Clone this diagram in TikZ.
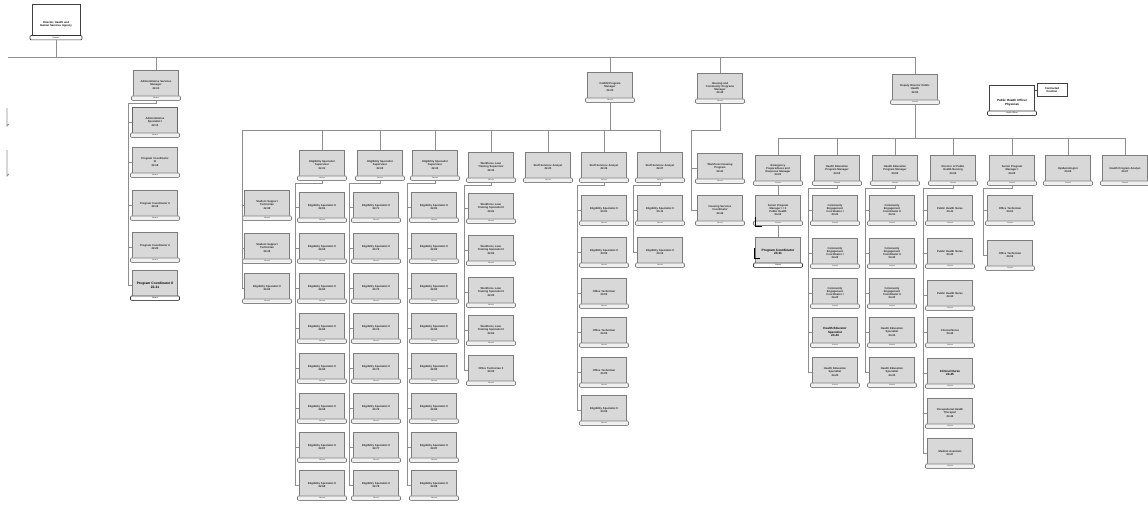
\documentclass[tikz,border=0pt]{standalone}
\usepackage{fontspec}
\setmainfont{Liberation Sans}
\usetikzlibrary{calc}
\definecolor{boxfill}{HTML}{D8D8D8}
\definecolor{boxdraw}{HTML}{7C7C7C}
\definecolor{stripfill}{HTML}{F0F0F0}
\definecolor{linec}{HTML}{8E8E8E}
\tikzset{
 obox/.style={draw=boxdraw, fill=boxfill, line width=0.7pt, minimum width=45pt, minimum height=30pt, inner sep=0pt, text width=41pt, align=center, font=\fontsize{2.7}{3.2}\selectfont\bfseries, text=black!85},
 wbox/.style={obox, fill=white, draw=black!75, text=black},
 ostrip/.style={draw=boxdraw, fill=stripfill, line width=0.6pt, rounded corners=1pt, minimum width=49pt, minimum height=4.4pt, inner sep=0pt, font=\fontsize{1.9}{2}\selectfont, text=black!75},
 dstrip/.style={ostrip, draw=black!80, fill=white, text=black},
 conn/.style={draw=linec, line width=0.75pt},
}
\newcommand\mkbox[5][]{\node[obox,#1] (#2) at (#3) {#4};\node[ostrip] at ([yshift=2.2pt]#2.south) {#5};}
\newcommand\mkwbox[5][]{\node[wbox,#1] (#2) at (#3) {#4};\node[dstrip] at ([yshift=2.2pt]#2.south) {#5};}
\newcommand\kidline[2]{\draw[conn] (#1.south) -- ++(0,3) -| ([xshift=-3.5pt]#2.west) -- (#2.west);}
\begin{document}
\begin{tikzpicture}[x=1pt,y=-1pt]
\useasboundingbox (0,0) rectangle (1148,506);
% buses
\coordinate (topbus) at (8,57);
\coordinate (calbus) at (0,130);
\coordinate (phbus) at (0,138);
% top node
\node[wbox, minimum width=48pt, minimum height=35pt] (top) at (56,22) {\\[3pt]Director, Health and\\Human Services Agency};
\node[dstrip, minimum width=52pt] at ([yshift=2.2pt]top.south) {Director};
% level 1
\mkbox{adm}{156,85}{Administrative Services\\Manager\\22-13}{Vacant}
\mkbox{cal}{610,87}{CalAIM Program\\Manager\\22-30}{Vacant}
\mkbox{em}{720,88}{Housing and\\Community Programs\\Manager\\22-40}{Vacant}
\mkbox{ph}{915,89}{Deputy Director Public\\Health\\22-50}{Vacant}
\draw[conn] (top.south) -- (top.south |- topbus);
\draw[conn] (topbus) -- (ph.north |- topbus) -- (ph.north);
\foreach \n in {adm,cal,em}{\draw[conn] (\n.north |- topbus) -- (\n.north);}
% admin column
\mkbox[draw=black!60]{a1}{155,122}{Administrative\\Specialist I\\22-14}{Vacant}
\mkbox{a2}{155,162}{Program Coordinator\\III\\22-18}{Vacant}
\mkbox{a3}{155,205}{Program Coordinator II\\22-19}{Vacant}
\mkbox{a4}{155,247}{Program Coordinator II\\22-20}{Vacant}
\node[obox, font=\fontsize{3.3}{3.8}\selectfont\bfseries, text=black] (a5) at (155,285) {Program Coordinator II\\22-21};
\node[dstrip] at ([yshift=2.2pt]a5.south) {Vacant};
\foreach \i in {1,...,5}{\kidline{adm}{a\i}}
% CalAIM bus and headers
\mkbox{h1}{322,165}{Eligibility Specialist\\Supervisor\\22-31}{Vacant}
\mkbox{h2}{380,165}{Eligibility Specialist\\Supervisor\\22-32}{Vacant}
\mkbox{h3}{435,165}{Eligibility Specialist\\Supervisor\\22-33}{Vacant}
\mkbox{h4}{491,167}{Workforce Loan\\Training Supervisor\\22-34}{Vacant}
\mkbox{h5}{548,167}{Staff Services Analyst\\22-35}{Vacant}
\mkbox{h6}{604,167}{Staff Services Analyst\\22-36}{Vacant}
\mkbox{h7}{660,167}{Staff Services Analyst\\22-37}{Vacant}
\coordinate (c0top) at (242,130);
\draw[conn] (cal.south) |- (c0top);
\foreach \i in {1,...,7}{\draw[conn] (cal.south) |- (h\i.north |- calbus) -- (h\i.north);}
% C0
\mkbox{s1}{267,205}{Student Support\\Technician\\22-38}{Vacant}
\mkbox{s2}{267,248}{Student Support\\Technician\\22-39}{Vacant}
\mkbox{s3}{267,288}{Eligibility Specialist II\\22-60}{Vacant}
\foreach \i in {1,2,3}{\draw[conn] (c0top) |- (s\i.west);}
% C1, C2, C3
\foreach \i/\y in {1/207,2/248,3/288,4/328,5/368,6/408,7/447,8/485}{
 \mkbox{ka\i}{322,\y}{Eligibility Specialist II\\22-6\i}{Vacant}
 \kidline{h1}{ka\i}
 \mkbox{kb\i}{376,\y}{Eligibility Specialist II\\22-7\i}{Vacant}
 \kidline{h2}{kb\i}
 \mkbox{kc\i}{434,\y}{Eligibility Specialist II\\22-8\i}{Vacant}
 \kidline{h3}{kc\i}
}
% C4
\foreach \i/\y in {1/208,2/250,3/292,4/330}{
 \mkbox{kd\i}{491,\y}{Workforce Loan\\Training Specialist II\\22-9\i}{Vacant}
 \kidline{h4}{kd\i}
}
\mkbox{kd5}{491,370}{Office Technician II\\22-95}{Vacant}
\kidline{h4}{kd5}
% C6
\foreach \i/\y/\t in {1/210/Eligibility Specialist II,2/252/Eligibility Specialist II,3/293/Office Technician,4/332/Office Technician,5/372/Office Technician,6/410/Eligibility Specialist II}{
 \mkbox{ke\i}{604,\y}{\t\\23-0\i}{Vacant}
 \kidline{h6}{ke\i}
}
% C7
\foreach \i/\y in {1/210,2/252}{
 \mkbox{kf\i}{660,\y}{Eligibility Specialist II\\23-1\i}{Vacant}
 \kidline{h7}{kf\i}
}
% Emergency children
\mkbox{e1}{720,168}{Workforce Housing\\Program\\22-41}{Vacant}
\mkbox{e2}{720,210}{Housing Services\\Coordinator\\22-42}{Vacant}
\foreach \i in {1,2}{\draw[conn] (em.south) -- ++(0,27) -| ([xshift=-6pt]e\i.west) -- (e\i.west);}
% Public health headers
\mkbox{q0}{778,170}{Emergency\\Preparedness and\\Response Manager\\24-01}{Vacant}
\mkbox{q1}{837,170}{Health Education\\Program Manager\\24-02}{Vacant}
\mkbox{q2}{895,170}{Health Education\\Program Manager\\24-03}{Vacant}
\mkbox{q3}{953,170}{Director of Public\\Health Nursing\\24-04}{Vacant}
\mkbox{q4}{1012,170}{Senior Program\\Manager I\\24-05}{Vacant}
\mkbox{q5}{1068,170}{Epidemiologist\\24-06}{Vacant}
\mkbox{q6}{1125,170}{Health Program Analyst\\24-07}{Vacant}
\foreach \i in {0,...,6}{\draw[conn] (ph.south) |- (q\i.north |- phbus) -- (q\i.north);}
% q0 chain
\mkbox{r1}{778,210}{Senior Program\\Manager I / II\\Public Health\\24-10}{Vacant}
\node[obox, font=\fontsize{3.2}{3.6}\selectfont\bfseries, text=black] (r2) at (778,252) {Program Coordinator\\24-11};
\node[dstrip] at ([yshift=2.2pt]r2.south) {Vacant};
\draw[conn] (q0.south) -- (r1.north);
\draw[conn] (r1.south) -- (r2.north);
\draw[black, line width=0.7pt] (755,217) -- (755,226) -- (762,226);
\draw[black, line width=0.7pt] (754,248) -- (754,258) -- (760,258);
% q1
\foreach \i/\y in {1/210,2/253,3/293}{
 \mkbox{t1\i}{835,\y}{Community\\Engagement\\Coordinator I\\24-2\i}{Vacant}
 \kidline{q1}{t1\i}
}
\node[obox, font=\fontsize{3}{3.5}\selectfont\bfseries, text=black] (t14) at (835,332) {Health Educator\\Specialist\\24-24};
\node[ostrip] at ([yshift=2.2pt]t14.south) {Vacant};
\kidline{q1}{t14}
\mkbox{t15}{835,372}{Health Education\\Specialist\\24-25}{Vacant}
\kidline{q1}{t15}
% q2
\foreach \i/\y in {1/210,2/253,3/293}{
 \mkbox{t2\i}{892,\y}{Community\\Engagement\\Coordinator II\\24-3\i}{Vacant}
 \kidline{q2}{t2\i}
}
\foreach \i/\y in {4/332,5/372}{
 \mkbox{t2\i}{892,\y}{Health Education\\Specialist\\24-3\i}{Vacant}
 \kidline{q2}{t2\i}
}
% q3
\foreach \i/\y/\t in {1/210/Public Health Nurse,2/253/Public Health Nurse,3/295/Public Health Nurse,4/332/Clinical Nurse}{
 \mkbox{t3\i}{950,\y}{\t\\24-4\i}{Vacant}
 \kidline{q3}{t3\i}
}
\node[obox, font=\fontsize{3}{3.5}\selectfont\bfseries, text=black] (t35) at (950,373) {Clinical Nurse\\24-45};
\node[ostrip] at ([yshift=2.2pt]t35.south) {Vacant};
\kidline{q3}{t35}
\mkbox{t36}{950,413}{Occupational Health\\Therapist\\24-46}{Vacant}
\kidline{q3}{t36}
\mkbox{t37}{950,453}{Medical Assistant\\24-47}{Vacant}
\kidline{q3}{t37}
% q4
\foreach \i/\y in {1/210,2/255}{
 \mkbox{t4\i}{1010,\y}{Office Technician\\24-5\i}{Vacant}
 \kidline{q4}{t4\i}
}
% officer box and contracted box
\node[wbox, font=\fontsize{3}{3.5}\selectfont\bfseries] (off) at (1012,100) {\\[4pt]Public Health Officer\\Physician};
\node[dstrip] at ([yshift=2.2pt]off.south) {Health Officer};
\node[wbox, minimum width=30pt, minimum height=13pt, text width=28pt] (ctr) at (1052,90) {Contracted\\Position};
\draw[conn, draw=black!70] (off.east |- ctr.west) -- (ctr.west);
% left fragments
\draw[conn] (7,108) -- (7,126) -- (9,124);
\draw[conn] (7,150) -- (7,176) -- (9,174);
\end{tikzpicture}
\end{document}
